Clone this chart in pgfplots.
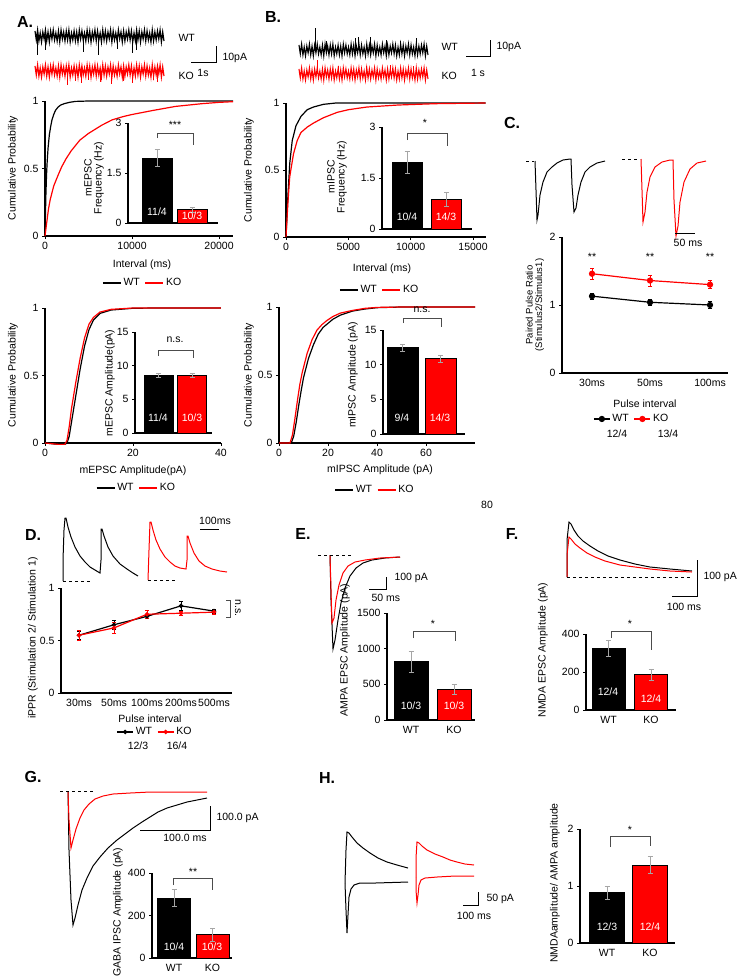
\documentclass[border=0pt]{standalone}
\usepackage{pgfplots}
\pgfplotsset{compat=1.18}
\usepackage{pgfplotstable}
\usepackage{fontspec}
\setmainfont{Liberation Sans}

% noise band used by the raw traces (index, offset)
\pgfplotstableread[row sep=\\]{
i d\\ 0 5\\ 1 -4\\ 2 6\\ 3 -5\\ 4 3\\ 5 -6\\ 6 4\\ 7 -3\\ 8 6\\ 9 -5\\
10 4\\ 11 -6\\ 12 5\\ 13 -3\\ 14 6\\ 15 -4\\ 16 3\\ 17 -5\\ 18 5\\ 19 -6\\
20 6\\ 21 -3\\ 22 4\\ 23 -5\\ 24 5\\ 25 -4\\ 26 6\\ 27 -6\\ 28 3\\ 29 -4\\
30 5\\ 31 -5\\ 32 4\\ 33 -6\\ 34 6\\ 35 -3\\ 36 5\\ 37 -4\\ 38 3\\ 39 -5\\
40 6\\ 41 -4\\ 42 5\\ 43 -6\\ 44 4\\ 45 -3\\ 46 6\\ 47 -5\\ 48 5\\ 49 -4\\
50 3\\ 51 -6\\ 52 6\\ 53 -4\\ 54 5\\ 55 -5\\ 56 4\\ 57 -3\\ 58 6\\ 59 -6\\
60 5\\ 61 -4\\ 62 3\\ 63 -5\\ 64 6\\ 65 -3\\ 66 4\\ 67 -6\\ 68 5\\ 69 -5\\
70 4\\ 71 -3\\ 72 6\\ 73 -4\\ 74 5\\ 75 -6\\ 76 3\\ 77 -5\\ 78 6\\ 79 -4\\
80 5\\ 81 -6\\ 82 4\\ 83 -3\\ 84 6\\ 85 -5\\ 86 5\\ 87 -4\\ 88 3\\ 89 -6\\
90 6\\ 91 -5\\ 92 4\\ 93 -4\\ 94 5\\ 95 -3\\ 96 6\\ 97 -6\\ 98 4\\ 99 -5\\
}\noise

\pgfplotsset{
  base/.style={scale only axis, anchor=south west, axis lines=left,
    axis line style={-, line width=1.1pt}, tick style={black, line width=0.8pt},
    tick align=outside, major tick length=3pt,
    /pgf/number format/assume math mode=true, /pgf/number format/1000 sep={},
    scaled ticks=false, clip=false,
    tick label style={font=\fontsize{10.5}{12}\selectfont}},
  barax/.style={base, ymin=0, xmin=0, x tick style={draw=none}},
  trace/.style={scale only axis, anchor=south west, hide axis, clip=false,
    xmin=0, xmax=99, width=129pt, height=40pt, ymin=-24, ymax=16},
  lineleg/.style={legend style={draw=none, fill=none, legend columns=2,
      font=\fontsize{10.5}{12}\selectfont,
      /tikz/every even column/.append style={column sep=3pt}},
    legend image code/.code={\draw[##1, line width=1.2pt] (0pt,0pt) -- (18pt,0pt);}},
  markleg/.style={legend style={draw=none, fill=none, legend columns=2,
      font=\fontsize{10.5}{12}\selectfont,
      /tikz/every even column/.append style={column sep=3pt}},
    legend image code/.code={\draw[mark repeat=2, mark phase=2, ##1]
      plot coordinates {(0pt,0pt) (8pt,0pt) (16pt,0pt)};}},
  barplot/.style={ybar, bar shift=0pt, draw=black, line width=0.8pt},
  ebar/.style={error bars/.cd, y dir=both, y explicit,
    error bar style={gray!70, line width=0.6pt},
    error mark options={rotate=90, gray!70, mark size=2.5pt, line width=0.6pt}},
  cbar/.style={error bars/.cd, y dir=both, y explicit,
    error bar style={line width=0.6pt},
    error mark options={rotate=90, mark size=2pt, line width=0.6pt}},
}

\begin{document}
\begin{tikzpicture}[x=1pt, y=1pt, font=\fontsize{10.5}{12}\selectfont]
\path[use as bounding box] (0,0) rectangle (739,-977);

% ---------------- raw noise traces (A, B)
\begin{axis}[trace, at={(35pt,-60pt)}]
\addplot[black, line width=1.2pt] table[x=i, y=d] {\noise};
\addplot[ycomb, black, line width=0.9pt] table[row sep=\\] {i d\\ 2 -19\\ 8 -14\\ 37 -16\\ 49 -19\\ 63 -13\\ 75 -17\\ 78 -14\\};
\end{axis}
\begin{axis}[trace, at={(35pt,-95pt)}]
\addplot[red, line width=1.2pt] table[x=i, y=d] {\noise};
\addplot[ycomb, red, line width=0.9pt] table[row sep=\\] {i d\\ 25 -14\\ 31 -10\\ 36 -12\\ 41 -9\\ 50 -11\\ 59 -13\\ 68 -10\\ 75 -12\\ 91 -9\\ 94 -11\\};
\end{axis}
\begin{axis}[trace, at={(299pt,-74pt)}]
\addplot[black, line width=1.1pt] table[x=i, y=d] {\noise};
\addplot[ycomb, black, line width=0.9pt] table[row sep=\\] {i d\\ 13 22\\ 21 9\\ 43 12\\ 46 13\\ 55 13\\ 67 10\\ 78 9\\ 90 12\\};
\end{axis}
\begin{axis}[trace, at={(299pt,-98pt)}]
\addplot[red, line width=1.1pt] table[x=i, y=d] {\noise};
\addplot[ycomb, red, line width=0.9pt] table[row sep=\\] {i d\\ 14 14\\ 30 8\\ 52 8\\ 70 9\\ 88 8\\};
\end{axis}

% ---------------- page axis for evoked traces (pixel units)
\begin{axis}[at={(0pt,-977pt)}, anchor=south west, scale only axis, width=739pt, height=977pt,
  xmin=0, xmax=739, ymin=0, ymax=977, y dir=reverse, hide axis, clip=false]
% C
\addplot[black, line width=1pt] coordinates {(535,161) (536,190) (537,220) (538,215) (540,195) (543,182) (547,172) (552,167) (557,163) (563,160) (570,159) (571,159) (572,185) (574,212) (576,208) (578,195) (581,182) (585,172) (590,167) (597,163) (605,161)};
\addplot[red, line width=1pt] coordinates {(641,159) (642,190) (643,222) (645,212) (647,192) (650,177) (655,167) (662,162) (670,160) (673,160) (674,200) (676,236) (678,226) (680,202) (684,182) (690,169) (697,163) (706,161)};
% D
\addplot[black, line width=1pt] coordinates {(63,581) (63,560) (64,530) (65,518) (66,518) (68,527) (71,537) (75,547) (80,556) (85,562) (90,567) (95,570) (100,573) (101,560) (101,529) (102,529) (104,536) (108,547) (113,556) (120,564) (127,569) (133,573) (138,576)};
\addplot[red, line width=1pt] coordinates {(148,580) (149,550) (150,522) (151,522) (153,530) (156,540) (160,549) (165,557) (170,562) (175,566) (180,568) (186,569) (187,560) (187,536) (188,536) (190,543) (194,553) (199,561) (205,566) (212,569) (220,571) (227,572)};
% E
\addplot[black, line width=1pt] coordinates {(330,555) (331,600) (333,649) (335,640) (338,620) (341,603) (345,588) (350,576) (356,568) (363,563) (372,560) (385,558) (400,557)};
\addplot[red, line width=1pt] coordinates {(330,555) (331,590) (332,623) (334,618) (336,600) (339,585) (343,573) (348,566) (355,562) (365,560) (380,558) (400,557)};
% F
\addplot[black, line width=1pt] coordinates {(567,577) (567,540) (569,522) (571,524) (574,530) (578,536) (583,541) (590,546) (598,551) (608,556) (620,560) (635,564) (650,567) (670,569) (692,571)};
\addplot[red, line width=1pt] coordinates {(567,577) (567,555) (569,537) (571,539) (575,544) (580,548) (587,553) (595,557) (605,561) (620,565) (635,567) (650,569) (670,571) (692,572)};
% G
\addplot[black, line width=1pt] coordinates {(68,791) (69,850) (71,900) (73,925) (75,918) (78,905) (82,890) (87,878) (93,866) (100,857) (108,848) (117,840) (125,834) (133,828) (142,822) (150,817) (158,812) (167,808) (177,805) (187,802) (197,800) (207,798)};
\addplot[red, line width=1pt] coordinates {(68,791) (69,820) (71,848) (73,840) (76,829) (80,818) (84,810) (89,804) (95,799) (103,796) (113,794) (130,793) (150,792) (207,792)};
% H
\addplot[black, line width=1pt] coordinates {(345,883) (346,850) (347,832) (349,833) (352,837) (357,843) (363,848) (370,853) (378,858) (387,862) (397,865) (408,868)};
\addplot[black, line width=1pt] coordinates {(345,883) (346,910) (347,933) (348,915) (349,897) (351,889) (354,885) (360,883) (375,883) (408,882)};
\addplot[red, line width=1pt] coordinates {(416,877) (416,858) (417,842) (419,843) (422,846) (427,850) (435,854) (443,857) (450,860) (457,862) (465,864) (474,865)};
\addplot[red, line width=1pt] coordinates {(416,877) (416,890) (417,903) (418,895) (419,885) (421,880) (425,878) (437,877) (455,876) (474,876)};
\end{axis}

% ---------------- A: cumulative interval
\begin{axis}[base, lineleg, at={(45pt,-236pt)}, width=188pt, height=135pt,
  xmin=0, xmax=21600, ymin=0, ymax=1, xtick={0,10000,20000}, ytick={0,0.5,1},
  legend style={at={(0.52,-0.348)}, anchor=center}]
\addplot[black, line width=1.2pt] coordinates {(0,0) (50,0.15) (100,0.3) (175,0.45) (250,0.55) (350,0.65) (500,0.75) (650,0.81) (800,0.86) (1000,0.9) (1200,0.93) (1500,0.955) (1800,0.97) (2200,0.98) (2800,0.99) (3500,0.997) (5000,1) (21600,1)};
\addlegendentry{WT}
\addplot[red, line width=1.2pt] coordinates {(0,0) (100,0.05) (200,0.1) (400,0.2) (600,0.27) (800,0.32) (1000,0.37) (1250,0.41) (1500,0.45) (1900,0.51) (2400,0.57) (3000,0.63) (3500,0.67) (4000,0.71) (5000,0.76) (6500,0.82) (7700,0.86) (9000,0.885) (10000,0.9) (12400,0.93) (15000,0.96) (18000,0.98) (20000,0.99) (21600,0.995)};
\addlegendentry{KO}
\end{axis}
\begin{axis}[barax, at={(128pt,-223pt)}, width=90pt, height=100pt, xmax=90, ymax=3, ytick={0,1.5,3}, xtick=\empty]
\addplot[barplot, bar width=30pt, fill=black, ebar] coordinates {(29,1.95) +- (0,0.25)};
\addplot[barplot, bar width=30pt, fill=red, ebar] coordinates {(64,0.4) +- (0,0.08)};
\end{axis}

% ---------------- A: cumulative amplitude
\begin{axis}[base, lineleg, at={(45pt,-443pt)}, width=176pt, height=135pt,
  xmin=0, xmax=40, ymin=0, ymax=1, xtick={0,20,40}, ytick={0,0.5,1},
  legend style={at={(0.52,-0.333)}, anchor=center}]
\addplot[black, line width=1.2pt] coordinates {(0,0) (3,-0.01) (4.5,-0.01) (5,0) (5.5,0.05) (6,0.15) (7,0.35) (8,0.55) (9,0.72) (10,0.84) (11,0.91) (12.5,0.96) (15,0.985) (20,0.998) (25,1) (40,1)};
\addlegendentry{WT}
\addplot[red, line width=1.2pt] coordinates {(0,0) (3,-0.01) (4.5,-0.01) (5,0.02) (5.5,0.12) (6,0.25) (7,0.45) (8,0.63) (9,0.78) (10,0.88) (11,0.93) (12.5,0.97) (15,0.99) (20,1) (40,1)};
\addlegendentry{KO}
\end{axis}
\begin{axis}[barax, at={(135pt,-433pt)}, width=77pt, height=101pt, xmax=77, ymax=15, ytick={0,5,10,15}, xtick=\empty]
\addplot[barplot, bar width=29pt, fill=black, ebar] coordinates {(23.5,8.6) +- (0,0.3)};
\addplot[barplot, bar width=29pt, fill=red, ebar] coordinates {(57,8.5) +- (0,0.3)};
\end{axis}

% ---------------- B: cumulative interval
\begin{axis}[base, lineleg, at={(286pt,-237pt)}, width=199.5pt, height=134pt,
  xmin=0, xmax=16000, ymin=0, ymax=1, xtick={0,5000,10000,15000}, ytick={0,0.5,1},
  legend style={at={(0.47,-0.396)}, anchor=center}]
\addplot[black, line width=1.2pt] coordinates {(0,0) (150,0.3) (300,0.55) (500,0.72) (800,0.83) (1200,0.9) (1700,0.95) (2200,0.97) (3000,0.99) (4000,1) (16000,1)};
\addlegendentry{WT}
\addplot[red, line width=1.2pt] coordinates {(0,0) (150,0.25) (300,0.45) (600,0.62) (900,0.72) (1200,0.78) (1700,0.82) (2200,0.85) (3000,0.89) (4100,0.93) (5000,0.95) (6500,0.97) (9000,0.985) (12000,0.995) (16000,1)};
\addlegendentry{KO}
\end{axis}
\begin{axis}[barax, at={(382pt,-229pt)}, width=90pt, height=102pt, xmax=90, ymax=3, ytick={0,1.5,3}, xtick=\empty]
\addplot[barplot, bar width=30pt, fill=black, ebar] coordinates {(25,1.97) +- (0,0.32)};
\addplot[barplot, bar width=30pt, fill=red, ebar] coordinates {(64.5,0.87) +- (0,0.2)};
\end{axis}

% ---------------- B: cumulative amplitude
\begin{axis}[base, lineleg, at={(279pt,-443pt)}, width=196pt, height=136pt,
  xmin=0, xmax=80, ymin=0, ymax=1, xtick={0,20,40,60}, ytick={0,0.5,1},
  legend style={at={(0.49,-0.346)}, anchor=center}]
\addplot[black, line width=1.2pt] coordinates {(0,0) (5,0) (6,0.05) (7,0.15) (8,0.27) (9,0.38) (10,0.48) (12,0.62) (14,0.72) (16,0.8) (18,0.85) (20,0.88) (22,0.91) (25,0.94) (30,0.97) (35,0.985) (40,0.995) (50,1) (80,1)};
\addlegendentry{WT}
\addplot[red, line width=1.2pt] coordinates {(0,0) (4.5,0) (5.5,0.06) (6.5,0.18) (7.5,0.31) (8.5,0.43) (9.5,0.52) (11.5,0.66) (13.5,0.76) (15.5,0.83) (17.5,0.87) (19.5,0.9) (22,0.93) (25,0.955) (30,0.975) (35,0.99) (40,0.997) (50,1) (80,1)};
\addlegendentry{KO}
\end{axis}
\begin{axis}[barax, at={(383pt,-434pt)}, width=82pt, height=104pt, xmax=82, ymax=15, ytick={0,5,10,15}, xtick=\empty]
\addplot[barplot, bar width=31pt, fill=black, ebar] coordinates {(19.5,12.5) +- (0,0.5)};
\addplot[barplot, bar width=31pt, fill=red, ebar] coordinates {(57.5,10.9) +- (0,0.5)};
\end{axis}

% ---------------- C: paired pulse ratio
\begin{axis}[base, markleg, at={(562pt,-373pt)}, width=166pt, height=136pt,
  xmin=0, xmax=166, ymin=0, ymax=2, ytick={0,1,2},
  xtick={30,88,148}, xticklabels={30ms,50ms,100ms}, x tick style={draw=none},
  legend style={at={(0.42,-0.338)}, anchor=center}]
\addplot[black, line width=1.2pt, mark=*, mark size=2.5pt, cbar] coordinates {(30,1.13) +- (0,0.04) (88,1.04) +- (0,0.04) (148,1.0) +- (0,0.05)};
\addlegendentry{WT}
\addplot[red, line width=1.2pt, mark=*, mark size=2.5pt, cbar] coordinates {(30,1.46) +- (0,0.08) (88,1.36) +- (0,0.08) (148,1.30) +- (0,0.06)};
\addlegendentry{KO}
\end{axis}

% ---------------- D: iPPR
\begin{axis}[base, markleg, at={(61pt,-693pt)}, width=171pt, height=105pt,
  xmin=0, xmax=171, ymin=0, ymax=1, ytick={0,0.5,1},
  xtick={18,53,86,120,153}, xticklabels={30ms,50ms,100ms,200ms,500ms}, x tick style={draw=none},
  legend style={at={(0.55,-0.371)}, anchor=center}]
\addplot[black, line width=1.2pt, mark=*, mark size=1.6pt, cbar] coordinates {(18,0.55) +- (0,0.04) (53,0.65) +- (0,0.04) (86,0.73) +- (0,0.02) (120,0.83) +- (0,0.04) (153,0.78) +- (0,0.02)};
\addlegendentry{WT}
\addplot[red, line width=1.2pt, mark=*, mark size=1.6pt, cbar] coordinates {(18,0.55) +- (0,0.05) (53,0.62) +- (0,0.05) (86,0.75) +- (0,0.04) (120,0.76) +- (0,0.02) (153,0.77) +- (0,0.02)};
\addlegendentry{KO}
\end{axis}

% ---------------- E, F, G, H bar charts
\begin{axis}[barax, at={(387pt,-720pt)}, width=88pt, height=107pt, xmax=88, ymax=1500,
  ytick={0,500,1000,1500}, xtick={24,67}, xticklabels={WT,KO}]
\addplot[barplot, bar width=34pt, fill=black, ebar] coordinates {(24,815) +- (0,150)};
\addplot[barplot, bar width=34pt, fill=red, ebar] coordinates {(67,425) +- (0,70)};
\end{axis}
\begin{axis}[barax, at={(586pt,-710pt)}, width=90pt, height=76pt, xmax=90, ymax=400,
  ytick={0,200,400}, xtick={22.5,65}, xticklabels={WT,KO}]
\addplot[barplot, bar width=33pt, fill=black, ebar] coordinates {(22.5,325) +- (0,42)};
\addplot[barplot, bar width=33pt, fill=red, ebar] coordinates {(65,185) +- (0,30)};
\end{axis}
\begin{axis}[barax, at={(152pt,-958pt)}, width=80pt, height=85pt, xmax=80, ymax=400,
  ytick={0,200,400}, xtick={22,60.5}, xticklabels={WT,KO}]
\addplot[barplot, bar width=33pt, fill=black, ebar] coordinates {(22,282) +- (0,40)};
\addplot[barplot, bar width=33pt, fill=red, ebar] coordinates {(60.5,110) +- (0,30)};
\end{axis}
\begin{axis}[barax, at={(580pt,-943pt)}, width=95pt, height=114pt, xmax=95, ymax=2,
  ytick={0,1,2}, xtick={27,70}, xticklabels={WT,KO}]
\addplot[barplot, bar width=35pt, fill=black, ebar] coordinates {(27,0.88) +- (0,0.12)};
\addplot[barplot, bar width=35pt, fill=red, ebar] coordinates {(70,1.37) +- (0,0.15)};
\end{axis}

% ---------------- annotations
\tikzset{pl/.style={font=\fontsize{16}{18}\bfseries\selectfont}}
\node[pl] at (25,-22) {A.};
\node[pl] at (273,-17) {B.};
\node[pl] at (512,-123) {C.};
\node[pl] at (33,-535) {D.};
\node[pl] at (303,-534) {E.};
\node[pl] at (512,-534) {F.};
\node[pl] at (33,-777) {G.};
\node[pl] at (327,-778) {H.};

% A traces labels / scale
\node[anchor=west] at (175,-38) {WT};
\node[anchor=west] at (175,-76) {KO};
\draw[line width=0.9pt] (191,-62) -- (216,-62) -- (216,-46);
\node[anchor=west] at (219,-58) {10pA};
\node at (203,-73) {1s};
% B traces labels / scale
\node[anchor=west] at (438,-47) {WT};
\node[anchor=west] at (438,-76) {KO};
\draw[line width=0.9pt] (466,-56) -- (490,-56) -- (490,-40);
\node[anchor=west] at (493,-47) {10pA};
\node at (478,-73) {1 s};

% A labels
\node[rotate=90] at (13,-168) {Cumulative Probability};
\node at (142,-265) {Interval (ms)};
\node[rotate=90, align=center, font=\fontsize{10.5}{10}\selectfont] at (94,-178) {mEPSC\\Frequency (Hz)};
\draw[black!70, line width=0.5pt] (157,-138) -- (157,-133) -- (193,-133) -- (193,-145);
\node at (175,-125) {***};
\node[white] at (157,-212) {11/4};
\node[white] at (192,-216) {10/3};

\node[rotate=90] at (13,-375) {Cumulative Probability};
\node at (133,-471) {mEPSC Amplitude(pA)};
\node[rotate=90] at (110,-383) {mEPSC Amplitude(pA)};
\draw[black!70, line width=0.5pt] (158,-356) -- (158,-350) -- (193,-350) -- (193,-358);
\node at (175,-340) {n.s.};
\node[white] at (158,-418) {11/4};
\node[white] at (192,-418) {10/3};

% B labels
\node[rotate=90] at (249,-170) {Cumulative Probability};
\node at (382,-269) {Interval (ms)};
\node[rotate=90, align=center, font=\fontsize{10.5}{10}\selectfont] at (337,-177) {mIPSC\\Frequency (Hz)};
\draw[black!70, line width=0.5pt] (407,-140) -- (407,-133) -- (447,-133) -- (447,-146);
\node at (425,-123) {*};
\node[white] at (407,-217) {10/4};
\node[white] at (446,-217) {14/3};

\node[rotate=90] at (249,-375) {Cumulative Probability};
\node at (380,-470) {mIPSC Amplitude (pA)};
\node at (487,-505) {80};
\node[rotate=90] at (353,-375) {mIPSC Amplitude (pA)};
\draw[black!70, line width=0.5pt] (403,-323) -- (403,-318) -- (441,-318) -- (441,-327);
\node at (422,-310) {n.s.};
\node[white] at (402,-418) {9/4};
\node[white] at (440,-418) {14/3};

% C labels
\draw[dashed, line width=0.5pt] (526,-161) -- (534,-161);
\draw[dashed, line width=0.5pt] (622,-159) -- (640,-159);
\draw[line width=0.9pt] (675,-233) -- (695,-233);
\node at (688,-243) {50 ms};
\node[rotate=90, align=center, font=\fontsize{9.5}{9.5}\selectfont] at (535,-305) {Paired Pulse Ratio\\(Stimulus2/Stimulus1)};
\node at (592,-257) {**};
\node at (650,-257) {**};
\node at (710,-257) {**};
\node at (645,-404) {Pulse interval};
\node at (617,-434) {12/4};
\node at (668,-434) {13/4};

% D labels
\draw[dashed, line width=0.5pt] (63,-581) -- (90,-581);
\draw[dashed, line width=0.5pt] (148,-580) -- (175,-580);
\draw[line width=0.9pt] (200,-529) -- (219,-529);
\node at (215,-521) {100ms};
\node[rotate=90] at (33,-638) {iPPR (Stimulation 2/ Stimulation 1)};
\draw[black!70, line width=0.5pt] (226,-600) -- (230,-600) -- (230,-617) -- (226,-617);
\node[rotate=-90] at (238,-608) {n.s.};
\node at (150,-719) {Pulse interval};
\node at (138,-746) {12/3};
\node at (177,-746) {16/4};

% E labels
\draw[dashed, line width=0.5pt] (318,-555) -- (352,-555);
\draw[line width=0.9pt] (369,-589) -- (386,-589) -- (386,-577);
\node[anchor=west] at (391,-578) {100 pA};
\node[anchor=west] at (368,-598) {50 ms};
\node[rotate=90] at (345,-650) {AMPA EPSC Amplitude (pA)};
\draw[black!70, line width=0.5pt] (413,-638) -- (413,-631) -- (455,-631) -- (455,-641);
\node at (433,-624) {*};
\node[white] at (411,-706) {10/3};
\node[white] at (454,-706) {10/3};

% F labels
\draw[dashed, line width=0.5pt] (567,-577) -- (692,-577);
\draw[line width=0.9pt] (672,-596) -- (697,-596) -- (697,-560);
\node[anchor=west] at (700,-577) {100 pA};
\node at (684,-607) {100 ms};
\node[rotate=90] at (543,-650) {NMDA EPSC Amplitude (pA)};
\draw[black!70, line width=0.5pt] (611,-638) -- (611,-631) -- (651,-631) -- (651,-650);
\node at (630,-624) {*};
\node[white] at (608,-692) {12/4};
\node[white] at (651,-699) {12/4};

% G labels
\draw[dashed, line width=0.5pt] (60,-791) -- (95,-791);
\draw[line width=0.9pt] (140,-830) -- (210,-830) -- (210,-806);
\node[anchor=west] at (213,-818) {100.0 pA};
\node at (185,-838) {100.0 ms};
\node[rotate=90] at (118,-912) {GABA IPSC Amplitude (pA)};
\draw[black!70, line width=0.5pt] (173,-885) -- (173,-878) -- (212,-878) -- (212,-890);
\node at (193,-872) {**};
\node[white] at (174,-947) {10/4};
\node[white] at (212,-947) {10/3};

% H labels
\draw[line width=0.9pt] (463,-905) -- (478,-905) -- (478,-892);
\node[anchor=west] at (483,-899) {50 pA};
\node at (474,-916) {100 ms};
\node[rotate=90] at (555,-883) {NMDAamplitude/ AMPA amplitude};
\draw[black!70, line width=0.5pt] (610,-847) -- (610,-836) -- (650,-836) -- (650,-846);
\node at (630,-830) {*};
\node[white] at (607,-927) {12/3};
\node[white] at (650,-927) {12/4};
\end{tikzpicture}
\end{document}
